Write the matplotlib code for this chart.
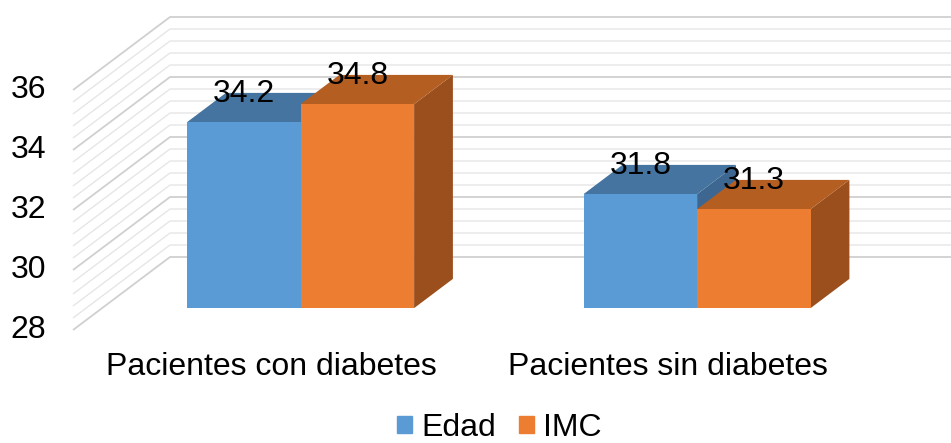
import numpy as np
import matplotlib
matplotlib.use('Agg')
import matplotlib.pyplot as plt
from matplotlib.patches import Polygon, Patch

plt.rcParams['font.family'] = ['Liberation Sans', 'DejaVu Sans']

# data
categories = ['Pacientes con diabetes', 'Pacientes sin diabetes']
series = ['Edad', 'IMC']
edad = [34.2, 31.8]
imc = [34.8, 31.3]
ticks = [28, 30, 32, 34, 36]

# colours: front, top, side
blue = ('#5b9bd5', '#44749f', '#3d6790')
orange = ('#ed7d31', '#b45e22', '#9a4f1d')

# fake 3d geometry (x in px, y in value units)
W, H = 951, 443
ppu = 30.0            # pixels per value unit
ymin = 28
x0 = 73               # floor front-left x
dx_floor = 97         # depth offset x (px)
dy_floor = 73 / ppu   # depth offset y (value units)
d_front, d_back = 0.3, 0.7
bar_w = 113.5
centers = [271.5, 668]
fs = 23

fig = plt.figure(figsize=(W / 100, H / 100), dpi=100)
ax = fig.add_axes([0, 0, 1, 1])
ax.set_xlim(0, W)
ax.set_ylim(ymin - (H - 330) / ppu, ymin + 330 / ppu)
ax.axis('off')

# back wall + left floor gridlines
for v in np.arange(28, 36.01, 0.4):
    major = abs(v - round(v)) < 1e-6 and round(v) % 2 == 0
    c = '#d0d0d0' if major else '#e6e6e6'
    lw = 1.3 if major else 1.0
    ax.plot([x0, x0 + dx_floor, W], [v, v + dy_floor, v + dy_floor],
            color=c, lw=lw, zorder=1, solid_capstyle='butt')

for t in ticks:
    ax.text(x0 - 27, t, str(t), ha='right', va='center', fontsize=fs)


def pt(x, v, d):
    return (x + dx_floor * d, v + dy_floor * d)


def draw_bar(xl, val, cols, z):
    xr = xl + bar_w
    front = [pt(xl, ymin, d_front), pt(xr, ymin, d_front), pt(xr, val, d_front), pt(xl, val, d_front)]
    top = [pt(xl, val, d_front), pt(xr, val, d_front), pt(xr, val, d_back), pt(xl, val, d_back)]
    side = [pt(xr, ymin, d_front), pt(xr, ymin, d_back), pt(xr, val, d_back), pt(xr, val, d_front)]
    ax.add_patch(Polygon(side, closed=True, fc=cols[2], ec='none', zorder=z))
    ax.add_patch(Polygon(top, closed=True, fc=cols[1], ec='none', zorder=z))
    ax.add_patch(Polygon(front, closed=True, fc=cols[0], ec='none', zorder=z))
    lx, ly = pt(xl + bar_w / 2, val, d_front)
    ax.text(lx, val + dy_floor * d_back - 0.05, f'{val:.1f}', ha='center', va='center',
            fontsize=fs, zorder=10)


for i, c in enumerate(centers):
    draw_bar(c - bar_w, edad[i], blue, 3 + i * 2)
    draw_bar(c, imc[i], orange, 4 + i * 2)
    ax.text(c, ymin - 37 / ppu, categories[i], ha='center', va='center', fontsize=fs)

handles = [Patch(color=blue[0]), Patch(color=orange[0])]
fig.legend(handles, series, loc='center', bbox_to_anchor=(0.5 + 24 / W, 15 / H), ncol=2,
           frameon=False, fontsize=fs, handlelength=0.47, handleheight=0.47,
           handletextpad=0.3, columnspacing=0.7, borderpad=0)

fig.savefig('out.png', dpi=100)
